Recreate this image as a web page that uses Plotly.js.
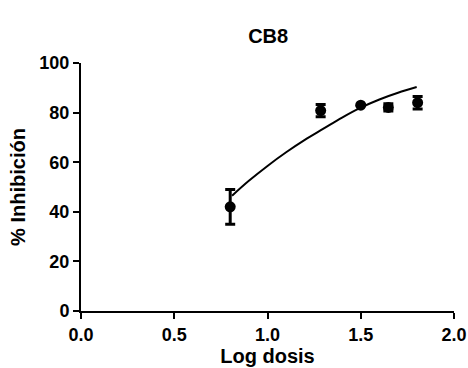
<!DOCTYPE html>
<html>
<head>
<meta charset="utf-8">
<script src="https://cdn.plot.ly/plotly-3.0.1.min.js"></script>
<style>html,body{margin:0;padding:0;background:#fff;}#chart{width:468px;height:368px;}</style>
</head>
<body>
<div id="chart"></div>
<script>
// Data points (mean ± error)
const doseLog = [0.80, 1.285, 1.50, 1.648, 1.805];
const inhibition = [42, 80.8, 83, 82.1, 84];
const inhibitionErr = [7, 2.5, 0, 1.5, 2.5];

// Fitted curve
const curveX = [0.81, 0.9, 1.0, 1.1, 1.2, 1.3, 1.4, 1.5, 1.6, 1.7, 1.8];
const curveY = [46.5, 52.5, 58.5, 64, 69, 73.5, 78, 82, 85.3, 88, 90.3];

const titleText = 'CB8';
const xTitle = 'Log dosis';
const yTitle = '% Inhibición';
const xTicks = [0, 0.5, 1.0, 1.5, 2.0];
const xTickText = ['0.0', '0.5', '1.0', '1.5', '2.0'];
const yTicks = [0, 20, 40, 60, 80, 100];

const font = 'Arial, "Liberation Sans", sans-serif';

const traces = [
  {
    x: curveX, y: curveY, mode: 'lines', type: 'scatter',
    line: {color: '#000', width: 2, shape: 'spline'},
    hoverinfo: 'skip', showlegend: false
  },
  {
    x: doseLog, y: inhibition, mode: 'markers', type: 'scatter',
    marker: {color: '#000', size: 11, symbol: 'circle'},
    error_y: {type: 'data', array: inhibitionErr, visible: true, color: '#000', thickness: 3, width: 5},
    showlegend: false
  }
];

const axisCommon = {
  showgrid: false, zeroline: false, showline: true, linecolor: '#000', linewidth: 2,
  ticks: 'outside', ticklen: 6, tickwidth: 2, tickcolor: '#000',
  tickfont: {family: font, size: 18, color: '#000', weight: 'bold'}
};

const layout = {
  width: 468, height: 368,
  margin: {l: 81, r: 14, t: 63, b: 57},
  paper_bgcolor: '#fff', plot_bgcolor: '#fff',
  title: {text: titleText, x: 0.573, xanchor: 'center', y: 0.902, yanchor: 'middle',
          font: {family: font, size: 20, color: '#000', weight: 'bold'}},
  xaxis: Object.assign({}, axisCommon, {
    range: [0, 2], tickvals: xTicks, ticktext: xTickText,
    title: {text: xTitle, standoff: 4, font: {family: font, size: 20, color: '#000', weight: 'bold'}}
  }),
  yaxis: Object.assign({}, axisCommon, {
    range: [0, 100], tickvals: yTicks,
    title: {text: yTitle, standoff: 8, font: {family: font, size: 20, color: '#000', weight: 'bold'}}
  })
};

Plotly.newPlot('chart', traces, layout, {displayModeBar: false, staticPlot: true});
</script>
</body>
</html>
